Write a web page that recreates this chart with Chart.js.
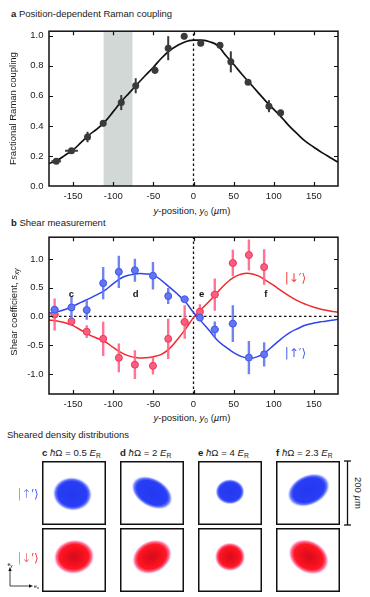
<!DOCTYPE html>
<html>
<head>
<meta charset="utf-8">
<script src="https://cdn.jsdelivr.net/npm/chart.js@4.4.1/dist/chart.umd.min.js"></script>
<style>
html, body { margin: 0; padding: 0; background: #fff; }
body { width: 370px; height: 597px; position: relative; overflow: hidden;
       font-family: "Liberation Sans", Arial, sans-serif; color: #1a1a1a; }
canvas { position: absolute; }
.t { position: absolute; font-size: 9.5px; line-height: 11px; white-space: nowrap; }
.c { transform: translateX(-50%); }
.rot { position: absolute; font-size: 9.5px; line-height: 11px; white-space: nowrap;
       transform: translate(-50%, -50%) rotate(-90deg); }
.rotr { position: absolute; font-size: 9.5px; line-height: 11px; white-space: nowrap;
        transform: translate(-50%, -50%) rotate(90deg); }
sub { font-size: 70%; vertical-align: -2px; line-height: 0; }
.ket { position: absolute; font-family: "DejaVu Sans", sans-serif; font-size: 12px; line-height: 14px;
       font-weight: 300; transform: translate(-50%, -50%); }
svg { position: absolute; left: 0; top: 0; }
</style>
</head>
<body>

<div class="t" style="left:11px;top:8px"><b>a</b> Position-dependent Raman coupling</div>
<canvas id="ca" width="370" height="184" style="left:0;top:20px"></canvas>
<div class="t c" style="left:192px;top:205px"><i>y</i>-position, <i>y</i><sub>0</sub> (<i>µ</i>m)</div>

<div class="t" style="left:11px;top:217px"><b>b</b> Shear measurement</div>
<canvas id="cb" width="370" height="186" style="left:0;top:226px"></canvas>
<div class="rot" style="left:13px;top:312px">Shear coefficient, <i>s</i><sub><i>xy</i></sub></div>
<div class="t c" style="left:192px;top:412px"><i>y</i>-position, <i>y</i><sub>0</sub> (<i>µ</i>m)</div>

<div class="t" style="left:7px;top:429px">Sheared density distributions</div>
<div id="heads"></div>
<div class="ket" style="left:28px;top:494px;color:#4a5cf2">|↑′⟩</div>
<div class="ket" style="left:28px;top:558px;color:#f23a3a">|↓′⟩</div>
<div class="rotr" style="left:358px;top:493px">200 <i>µ</i>m</div>

<svg width="370" height="597">
  <g stroke="#111" stroke-width="1.3" fill="none">
    <line x1="347.5" y1="461" x2="347.5" y2="525"/>
    <line x1="344" y1="461" x2="351" y2="461"/>
    <line x1="344" y1="525" x2="351" y2="525"/>
    <line x1="10" y1="586" x2="10" y2="570" stroke-width="0.8"/>
    <line x1="10" y1="586" x2="30" y2="586" stroke-width="0.8"/>
  </g>
  <path d="M10 567 L8.3 571 L11.7 571 Z" fill="#111"/>
  <path d="M33 586 L29 584.3 L29 587.7 Z" fill="#111"/>
  <text x="10" y="566" font-size="5.5" text-anchor="middle" font-family="Liberation Sans">e<tspan font-size="4" dy="1">y</tspan></text>
  <text x="34" y="588" font-size="5.5" font-family="Liberation Sans">e<tspan font-size="4" dy="1">x</tspan></text>
</svg>

<script>
// ---- panel a: Raman coupling vs position ----
const ramanY0   = [-171, -152, -132, -112.5, -90, -72, -48, -31.5, -11.6, 9, 33, 46.5, 68, 94, 108.5];
const ramanVal  = [0.165, 0.235, 0.326, 0.417, 0.555, 0.667, 0.771, 0.917, 0.997, 0.949, 0.936, 0.826, 0.69, 0.531, 0.488];
const ramanErr  = [0.015, 0.015, 0.035, 0.02, 0.05, 0.05, 0.025, 0.08, 0.02, 0.01, 0.015, 0.07, 0.01, 0.04, 0.01];
const ramanXErr = [6, 8, 0, 0, 0, 0, 0, 0, 3, 0, 0, 0, 0, 0, 0];
const fitY0     = [-180, -170, -160, -150, -140, -130, -120, -110, -100, -90, -80, -70, -60, -50, -40, -30, -20, -10,
                   0, 10, 20, 30, 40, 50, 60, 70, 80, 90, 100, 110, 120, 130, 140, 150, 160, 170, 180];
const ramanFit  = [0.15, 0.17, 0.205, 0.24, 0.29, 0.34, 0.38, 0.43, 0.495, 0.562, 0.62, 0.678, 0.735, 0.79, 0.85, 0.9, 0.935, 0.96,
                   0.97, 0.97, 0.96, 0.935, 0.87, 0.81, 0.745, 0.685, 0.625, 0.565, 0.51, 0.455, 0.395, 0.343, 0.295, 0.258, 0.222, 0.19, 0.159];
const bandRange = [-112, -76];
const xTicks    = [-150, -100, -50, 0, 50, 100, 150];
const yTicksA   = [0, 0.2, 0.4, 0.6, 0.8, 1.0];

// ---- panel b: shear coefficient ----
const shearY0   = [-173, -152, -133, -112.5, -93, -73, -50.5, -31.5, -11, 8, 26.5, 49, 69, 88];
const upS       = [0.119, 0.157, 0.112, 0.58, 0.777, 0.805, 0.71, 0.355, 0.30, -0.02, -0.226, -0.125, -0.716, -0.66];
const upErr     = [0.05, 0.2, 0.17, 0.28, 0.28, 0.2, 0.24, 0.14, 0.03, 0.04, 0.14, 0.32, 0.29, 0.21];
const downS     = [0.034, -0.085, -0.265, -0.39, -0.72, -0.84, -0.86, -0.39, -0.096, 0.084, 0.38, 0.93, 1.07, 0.86];
const downErr   = [0.28, 0.04, 0.11, 0.3, 0.25, 0.25, 0.15, 0.35, 0.29, 0.13, 0.28, 0.23, 0.27, 0.31];
const shearXErr = [5, 4, 3, 3, 3, 4, 4, 4, 5, 4, 5, 5, 3, 3];
const upFit     = [0.06, 0.08, 0.12, 0.18, 0.245, 0.31, 0.38, 0.46, 0.57, 0.67, 0.72, 0.745, 0.74, 0.72, 0.63, 0.51, 0.39, 0.25,
                   0.07, -0.09, -0.25, -0.42, -0.53, -0.63, -0.70, -0.73, -0.70, -0.62, -0.50, -0.38, -0.28, -0.21, -0.15, -0.115, -0.09, -0.07, -0.05];
const downFit   = [-0.06, -0.08, -0.11, -0.16, -0.24, -0.32, -0.38, -0.44, -0.54, -0.63, -0.69, -0.72, -0.72, -0.70, -0.66, -0.56, -0.40, -0.22,
                   -0.02, 0.13, 0.27, 0.42, 0.57, 0.68, 0.74, 0.75, 0.71, 0.63, 0.54, 0.44, 0.35, 0.27, 0.21, 0.16, 0.12, 0.095, 0.073];
const yTicksB   = [-1, -0.5, 0, 0.5, 1];
const markTxt   = ['c', 'd', 'e', 'f'];
const markY0    = [-152, -72, 10, 90];
const markS     = 0.38;

// ---- density shots (µm, box spans ±100) ----
const shotTxt   = ['c', 'd', 'e', 'f'];
const shotOmega = ['0.5', '2', '4', '2.3'];
const upCx  = [-5, 0, 0, 2],  upCy  = [-3, 1, 4, 9];
const upRx  = [62, 70, 46, 70], upRy  = [53, 45, 40, 48], upTilt = [-8, -30, 0, 25];
const dnCx  = [0, 0, 0, 2],   dnCy  = [10, 10, 10, 10];
const dnRx  = [64, 65, 48, 67], dnRy  = [54, 51, 45, 51], dnTilt = [8, 28, 0, -30];

Chart.defaults.font.family = '"Liberation Sans", Arial, sans-serif';
Chart.defaults.font.size = 9.5;
Chart.defaults.color = '#1a1a1a';

const pts = (xs, ys) => xs.map((x, i) => ({ x, y: ys[i] }));

const errorBars = {
    id: 'errorBars',
    beforeDatasetDraw(chart, args) {
        const ds = chart.data.datasets[args.index];
        if (!ds.errY) return;
        const { ctx, scales: { x, y } } = chart;
        ctx.save();
        ctx.strokeStyle = ds.errColor;
        ctx.lineWidth = ds.errWidth;
        ds.data.forEach((p, i) => {
            const px = x.getPixelForValue(p.x), py = y.getPixelForValue(p.y);
            ctx.beginPath();
            if (ds.errY[i]) {
                ctx.moveTo(px, y.getPixelForValue(p.y - ds.errY[i]));
                ctx.lineTo(px, y.getPixelForValue(p.y + ds.errY[i]));
            }
            if (ds.errX && ds.errX[i]) {
                ctx.moveTo(x.getPixelForValue(p.x - ds.errX[i]), py);
                ctx.lineTo(x.getPixelForValue(p.x + ds.errX[i]), py);
            }
            ctx.stroke();
        });
        ctx.restore();
    },
};

const frameTicks = {
    id: 'frameTicks',
    afterDatasetsDraw(chart) {
        const { ctx, chartArea: a, scales: { x, y } } = chart;
        ctx.save();
        ctx.strokeStyle = '#111';
        ctx.lineWidth = 1.2;
        ctx.beginPath();
        x.ticks.forEach(t => {
            const px = Math.round(x.getPixelForValue(t.value)) + 0.5;
            ctx.moveTo(px, a.bottom); ctx.lineTo(px, a.bottom - 4);
            ctx.moveTo(px, a.top); ctx.lineTo(px, a.top + 4);
        });
        y.ticks.forEach(t => {
            const py = Math.round(y.getPixelForValue(t.value)) + 0.5;
            if (py <= a.top + 1 || py >= a.bottom - 1) return;
            ctx.moveTo(a.left, py); ctx.lineTo(a.left + 4, py);
            ctx.moveTo(a.right, py); ctx.lineTo(a.right - 4, py);
        });
        ctx.stroke();
        ctx.lineWidth = 1.5;
        ctx.strokeRect(a.left, a.top, a.right - a.left, a.bottom - a.top);
        ctx.restore();
    },
};

const bandPlugin = {
    id: 'band',
    beforeDatasetsDraw(chart) {
        const { ctx, chartArea: a, scales: { x } } = chart;
        const x0 = x.getPixelForValue(bandRange[0]), x1 = x.getPixelForValue(bandRange[1]);
        ctx.save();
        ctx.fillStyle = '#d2d8d6';
        ctx.fillRect(x0, a.top, x1 - x0, a.bottom - a.top);
        ctx.restore();
    },
};

const labelsB = {
    id: 'labelsB',
    afterDatasetsDraw(chart) {
        const { ctx, scales: { x, y } } = chart;
        ctx.save();
        ctx.textAlign = 'center';
        ctx.textBaseline = 'middle';
        ctx.fillStyle = '#111';
        ctx.font = 'bold 9.5px "Liberation Sans", Arial, sans-serif';
        markTxt.forEach((m, i) => ctx.fillText(m, x.getPixelForValue(markY0[i]), y.getPixelForValue(markS)));
        ctx.font = '12px "DejaVu Sans", sans-serif';
        ctx.fillStyle = '#f23a3a';
        ctx.fillText('|↓′⟩', x.getPixelForValue(127), y.getPixelForValue(0.66));
        ctx.fillStyle = '#4a5cf2';
        ctx.fillText('|↑′⟩', x.getPixelForValue(127), y.getPixelForValue(-0.66));
        ctx.restore();
    },
};

function axes(yMin, yMax, yTicks) {
    return {
        x: {
            type: 'linear', min: -180, max: 180,
            grid: { display: false, drawTicks: false }, border: { display: false },
            afterBuildTicks: s => { s.ticks = xTicks.map(v => ({ value: v })); },
            afterFit: s => { s.height = 18; },
            ticks: { padding: 5, maxRotation: 0, autoSkip: false, callback: v => String(v) },
        },
        y: {
            type: 'linear', min: yMin, max: yMax,
            grid: { display: false, drawTicks: false }, border: { display: false },
            afterBuildTicks: s => { s.ticks = yTicks.map(v => ({ value: v })); },
            afterFit: s => { s.width = 49; },
            ticks: { padding: 5.5, callback: v => v.toFixed(1) },
        },
    };
}

const dashed = (data) => ({
    data, showLine: true, borderColor: '#111', borderWidth: 1.3, borderDash: [2.5, 2.5],
    pointRadius: 0, order: 3,
});

const baseOpts = {
    responsive: false, animation: false, devicePixelRatio: 1, events: [],
    plugins: { legend: { display: false }, tooltip: { enabled: false } },
};

// panel a
const scA = axes(0, 1.03, yTicksA);
scA.y.title = { display: true, text: 'Fractional Raman coupling', font: { size: 9.5 }, padding: { top: 8, bottom: 0 } };
new Chart(document.getElementById('ca'), {
    type: 'scatter',
    data: {
        datasets: [
            {
                data: pts(ramanY0, ramanVal), backgroundColor: '#373b3b', borderWidth: 0, pointRadius: 3.5,
                errY: ramanErr, errX: ramanXErr, errColor: '#373b3b', errWidth: 2, order: 1,
            },
            {
                data: pts(fitY0, ramanFit), showLine: true, borderColor: '#111', borderWidth: 1.7,
                tension: 0.4, pointRadius: 0, order: 2,
            },
            dashed([{ x: 0, y: 0 }, { x: 0, y: 1.03 }]),
        ],
    },
    options: { ...baseOpts, layout: { padding: { top: 6, right: 32, left: 0, bottom: 0 } }, scales: scA },
    plugins: [bandPlugin, errorBars, frameTicks],
});

// panel b
new Chart(document.getElementById('cb'), {
    type: 'scatter',
    data: {
        datasets: [
            {
                data: pts(shearY0, upS), backgroundColor: '#6275f2', borderColor: '#4257e8', borderWidth: 1,
                pointRadius: 3.5, errY: upErr, errX: shearXErr, errColor: 'rgba(98,116,240,0.9)', errWidth: 2.4, order: 1,
            },
            {
                data: pts(shearY0, downS), backgroundColor: '#ff5d7e', borderColor: '#e8385e', borderWidth: 1,
                pointRadius: 3.5, errY: downErr, errX: shearXErr, errColor: 'rgba(255,100,140,0.9)', errWidth: 2.4, order: 1,
            },
            {
                data: pts(fitY0, upFit), showLine: true, borderColor: '#2f43ee', borderWidth: 1.5,
                tension: 0.4, pointRadius: 0, order: 2,
            },
            {
                data: pts(fitY0, downFit), showLine: true, borderColor: '#f02a2a', borderWidth: 1.5,
                tension: 0.4, pointRadius: 0, order: 2,
            },
            dashed([{ x: 0, y: -1.35 }, { x: 0, y: 1.38 }]),
            dashed([{ x: -180, y: 0 }, { x: 180, y: 0 }]),
        ],
    },
    options: { ...baseOpts, layout: { padding: { top: 6, right: 32, left: 0, bottom: 0 } }, scales: axes(-1.35, 1.38, yTicksB) },
    plugins: [errorBars, labelsB, frameTicks],
});

// density shots
const cloudPlugin = {
    id: 'cloud',
    afterDatasetsDraw(chart) {
        const { ctx, chartArea: a, scales: { x, y } } = chart;
        const ds = chart.data.datasets[0], p = ds.data[0];
        const cx = x.getPixelForValue(p.x), cy = y.getPixelForValue(p.y);
        const rx = x.getPixelForValue(p.x + ds.rx) - cx;
        const ry = cy - y.getPixelForValue(p.y + ds.ry);
        ctx.save();
        ctx.beginPath();
        ctx.rect(a.left, a.top, a.right - a.left, a.bottom - a.top);
        ctx.clip();
        ctx.translate(cx, cy);
        ctx.rotate(-ds.tilt * Math.PI / 180);
        ctx.scale(rx, ry);
        const g = ctx.createRadialGradient(0, 0, 0, 0, 0, 1);
        ds.stops.forEach(s => g.addColorStop(s[0], s[1]));
        ctx.fillStyle = g;
        ctx.beginPath();
        ctx.arc(0, 0, 1, 0, Math.PI * 2);
        ctx.fill();
        ctx.restore();
        ctx.save();
        ctx.strokeStyle = '#111';
        ctx.lineWidth = 1.5;
        ctx.strokeRect(a.left + 0.75, a.top + 0.75, a.right - a.left - 1.5, a.bottom - a.top - 1.5);
        ctx.restore();
    },
};

const blueStops = [[0, 'rgb(36,56,238)'], [0.74, 'rgb(40,62,246)'], [0.86, 'rgba(70,90,250,0.8)'],
                   [0.94, 'rgba(130,140,255,0.3)'], [1, 'rgba(170,175,255,0)']];
const redStops  = [[0, 'rgb(212,12,28)'], [0.45, 'rgb(242,16,30)'], [0.72, 'rgb(255,24,36)'],
                   [0.86, 'rgba(255,60,110,0.75)'], [0.94, 'rgba(255,120,180,0.3)'], [1, 'rgba(255,160,210,0)']];

const colLeft = [42, 120, 198, 276];
const rowTop = [461, 528];
const heads = document.getElementById('heads');
shotTxt.forEach((s, i) => {
    const h = document.createElement('div');
    h.className = 't';
    h.style.cssText = `left:${colLeft[i]}px;top:447px;font-size:9.6px`;
    h.innerHTML = `<b>${s}</b> <i>ħ</i>Ω = ${shotOmega[i]} <i>E</i><sub>R</sub>`;
    heads.appendChild(h);
    [0, 1].forEach(r => {
        const cv = document.createElement('canvas');
        cv.width = 64; cv.height = 64;
        cv.style.left = colLeft[i] + 'px';
        cv.style.top = rowTop[r] + 'px';
        document.body.appendChild(cv);
        const up = r === 0;
        new Chart(cv, {
            type: 'scatter',
            data: {
                datasets: [{
                    data: [{ x: up ? upCx[i] : dnCx[i], y: up ? upCy[i] : dnCy[i] }],
                    pointRadius: 0,
                    rx: up ? upRx[i] : dnRx[i], ry: up ? upRy[i] : dnRy[i], tilt: up ? upTilt[i] : dnTilt[i],
                    stops: up ? blueStops : redStops,
                }],
            },
            options: {
                ...baseOpts,
                layout: { padding: 0 },
                scales: {
                    x: { type: 'linear', display: false, min: -100, max: 100 },
                    y: { type: 'linear', display: false, min: -100, max: 100 },
                },
            },
            plugins: [cloudPlugin],
        });
    });
});
</script>
</body>
</html>
